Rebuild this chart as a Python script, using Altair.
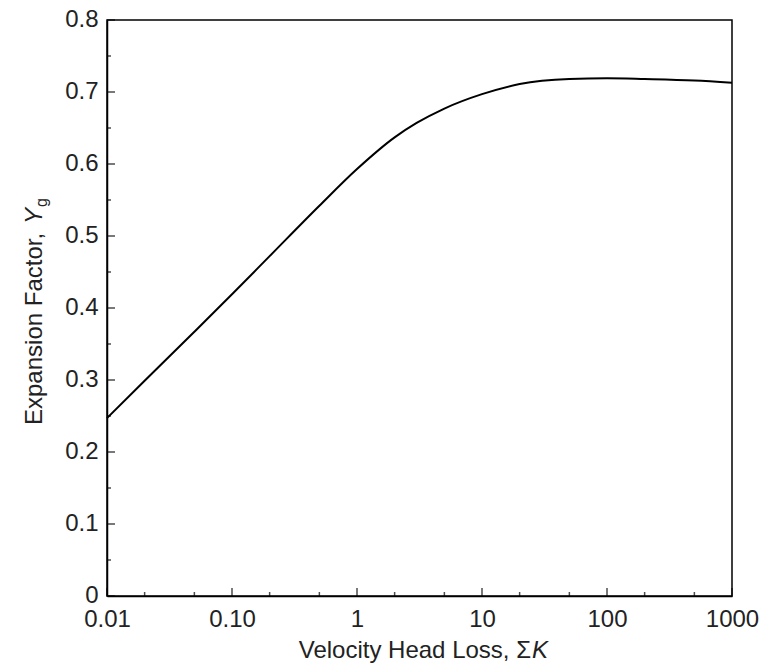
import altair as alt
import pandas as pd

# Curve: velocity head loss (sum K) vs expansion factor Yg
K = [0.01, 0.02, 0.05, 0.1, 0.2, 0.5, 1, 2, 3, 5, 10, 20, 50, 100, 200, 500, 1000]
Yg = [0.247, 0.299, 0.367, 0.419, 0.472, 0.542, 0.593, 0.637, 0.657, 0.677, 0.697,
      0.711, 0.718, 0.719, 0.718, 0.716, 0.713]

x_major = [0.01, 0.1, 1, 10, 100, 1000]
x_major_labels = ["0.01", "0.10", "1", "10", "100", "1000"]
x_minor = [0.02, 0.05, 0.2, 0.5, 2, 5, 20, 50, 200, 500]
y_major = [0, 0.1, 0.2, 0.3, 0.4, 0.5, 0.6, 0.7, 0.8]
y_minor = [0.05, 0.15, 0.25, 0.35, 0.45, 0.55, 0.65, 0.75]

x_title_main = "Velocity Head Loss, Σ"
x_title_var = "K"
y_title_main = "Expansion Factor,"
y_title_var = "Y"
y_title_sub = "g"

FONT = "Liberation Sans"
TXT = "#222222"
FS = 24

xscale = alt.Scale(type="log", domain=[0.01, 1000], nice=False)
yscale = alt.Scale(domain=[0, 0.8], nice=False, zero=False)

label_expr = (
    "[" + ",".join("'" + s + "'" for s in x_major_labels) + "]"
    + "[indexof([" + ",".join(str(v) for v in x_major) + "], datum.value)]"
)

df = pd.DataFrame({"K": K, "Yg": Yg})

line = alt.Chart(df).mark_line(color="black", strokeWidth=2, interpolate="monotone").encode(
    x=alt.X("K:Q", scale=xscale,
            axis=alt.Axis(values=x_major, labelExpr=label_expr, ticks=False, grid=False,
                          title=None, labelBaseline="alphabetic", labelFlush=False,
                          labelOverlap=False, labelPadding=30)),
    y=alt.Y("Yg:Q", scale=yscale,
            axis=alt.Axis(values=y_major, format=".1~f", ticks=False, grid=False,
                          title=None, labelPadding=9, labelFlush=False, labelOverlap=False,
                          labelOffset=-1)),
)

xmaj = alt.Chart(pd.DataFrame({"K": x_major})).mark_tick(
    orient="vertical", size=8, thickness=1.5, color="black", yOffset=-4
).encode(x=alt.X("K:Q", scale=xscale), y=alt.datum(0))

xmin = alt.Chart(pd.DataFrame({"K": x_minor})).mark_tick(
    orient="vertical", size=4, thickness=1.5, color="black", yOffset=-2
).encode(x=alt.X("K:Q", scale=xscale), y=alt.datum(0))

ymaj = alt.Chart(pd.DataFrame({"Yg": y_major})).mark_tick(
    orient="horizontal", size=8, thickness=1.5, color="black", xOffset=4
).encode(y=alt.Y("Yg:Q", scale=yscale), x=alt.datum(0.01))

ymin = alt.Chart(pd.DataFrame({"Yg": y_minor})).mark_tick(
    orient="horizontal", size=4, thickness=1.5, color="black", xOffset=2
).encode(y=alt.Y("Yg:Q", scale=yscale), x=alt.datum(0.01))

# Axis titles (mixed styles: italic variable, subscript)
def title_text(txt, x, y, align="left", angle=0, size=FS, style="normal"):
    return alt.Chart(pd.DataFrame({"t": [txt]})).mark_text(
        font=FONT, fontSize=size, fontStyle=style, color=TXT, align=align,
        baseline="alphabetic", angle=angle
    ).encode(text="t:N", x=alt.value(x), y=alt.value(y))

xt1 = title_text(x_title_main, 424, 638, align="right")
xt2 = title_text(x_title_var, 425, 638, align="left", style="italic")
yt1 = title_text(y_title_main, -65, 405, align="left", angle=270)
yt2 = title_text(y_title_var, -65, 204, align="left", angle=270, style="italic")
yt3 = title_text(y_title_sub, -60, 187, align="left", angle=270, size=16)

chart = alt.layer(line, xmaj, xmin, ymaj, ymin, xt1, xt2, yt1, yt2, yt3).properties(
    width=625, height=576,
    autosize="none",
    padding={"left": 99, "top": 12, "right": 33, "bottom": 70},
    background="white",
).configure_view(
    stroke="black", strokeWidth=1.5
).configure_axis(
    domainColor="black", domainWidth=1.5,
    labelFont=FONT, labelFontSize=FS, labelColor=TXT,
)

chart.save("out.html", embed_options={"renderer": "svg", "actions": False})
